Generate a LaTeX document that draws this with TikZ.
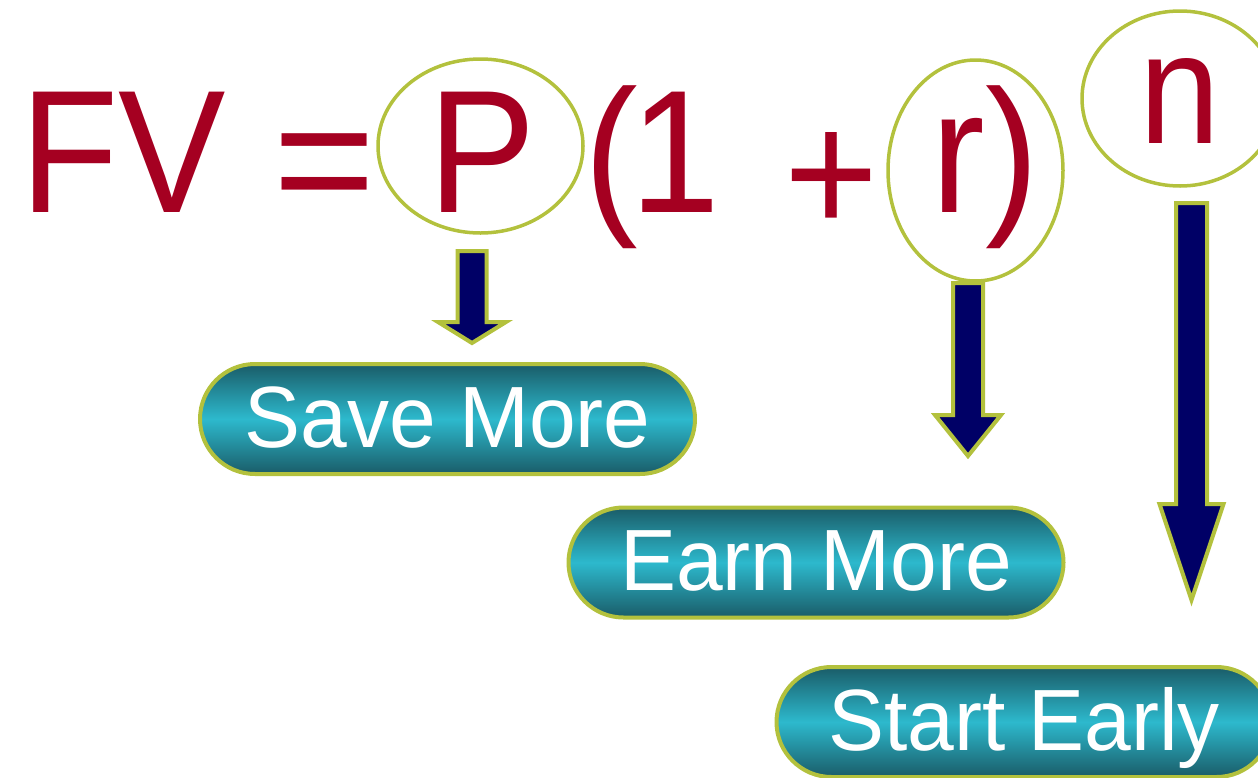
\documentclass[tikz,border=0pt]{standalone}
\usepackage{fontspec}
\setmainfont{Liberation Sans}
\newfontfamily\fvfont[FakeStretch=0.92]{Liberation Sans}
\newfontfamily\pillfont[FakeStretch=0.965]{Liberation Sans}
\usetikzlibrary{positioning,shapes.geometric,calc}
\definecolor{fvred}{HTML}{A50021}
\definecolor{rimgreen}{HTML}{B3C13D}
\definecolor{navyfill}{HTML}{000066}
\definecolor{tealdark}{HTML}{1A5C68}
\definecolor{teallight}{HTML}{2DB9CD}
% block arrow: top, tip, shaft half width, head half width, head length
\newcommand{\blockarrow}[5]{%
  \filldraw[arr] ($(#1)+(-#3,0)$) -- ($(#2)+(-#3,-#5)$) -- ($(#2)+(-#4,-#5)$) -- (#2)
    -- ($(#2)+(#4,-#5)$) -- ($(#2)+(#3,-#5)$) -- ($(#1)+(#3,0)$) -- cycle;}

\begin{document}
\begin{tikzpicture}[x=1pt, y=-1pt, every node/.style={inner sep=0pt}]
\tikzset{sym/.style={text=fvred, font=\fvfont\fontsize{175}{175}\selectfont, anchor=base}}
\tikzset{ring/.style={ellipse, draw=rimgreen, line width=3.5pt}}
\tikzset{pill/.style={rectangle, rounded corners=55pt, draw=rimgreen, line width=4pt, minimum width=495pt, minimum height=110pt, top color=tealdark, bottom color=tealdark, middle color=teallight, text=white, font=\pillfont\fontsize{87}{87}\selectfont, text height=66pt, text depth=10pt}}
\tikzset{arr/.style={fill=navyfill, draw=rimgreen, line width=4pt}}
\useasboundingbox (0,0) rectangle (1258,777);
% rings
\node[ring, minimum width=205pt, minimum height=174pt] (pring) at (480.5,146) {};
\node[ring, minimum width=175pt, minimum height=221pt] (rring) at (975.5,170.5) {};
\node[ring, minimum width=196pt, minimum height=175pt] (nring) at (1180,98.5) {};
% formula
\node[sym] (fv) at (123,212) {FV};
\node[sym, font=\fontsize{175}{175}\selectfont] (eq) at (324.5,219) {=};
\node[sym] (p) at (482.5,212) {P};
\node[sym] (lpar) at (611.5,212) {(};
\node[sym] (one) at (675,212) {1};
\node[sym] (plus) at (831.5,233) {+};
\node[sym] (rpar) at (985,212) {r)};
\node[sym, font=\fvfont\fontsize{158}{158}\selectfont] (n) at (1180,143) {n};
% pills
\node[pill] (save) at (447.5,419) {Save More};
\node[pill] (earn) at (816,562.5) {Earn More};
\node[pill] (start) at (1024,722) {Start Early};
% arrows
\coordinate (ptop) at (472,251);
\coordinate (ptip) at (472,343);
\coordinate (rtop) at (968,283);
\coordinate (rtip) at (968,456);
\coordinate (ntop) at (1191.5,203);
\coordinate (ntip) at (1191.5,600);
\blockarrow{ptop}{ptip}{14.5}{34}{21}
\blockarrow{rtop}{rtip}{15}{33}{41}
\blockarrow{ntop}{ntip}{15.5}{32}{96}
\end{tikzpicture}
\end{document}
